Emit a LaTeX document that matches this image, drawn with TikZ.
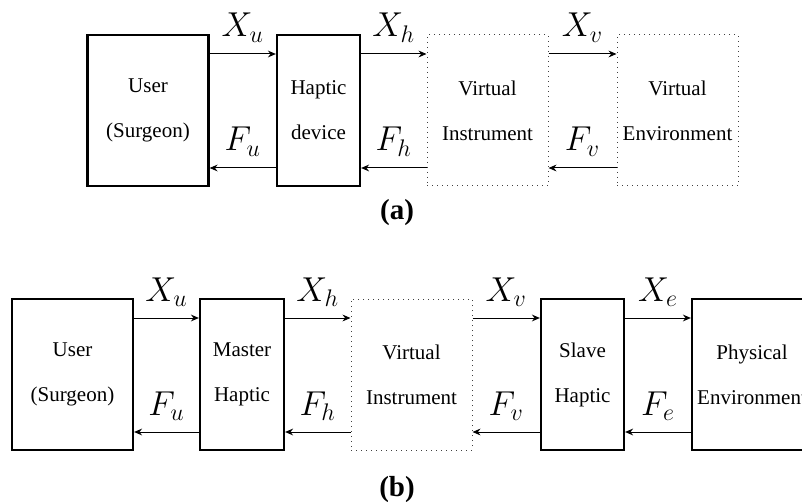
\documentclass[tikz,border=0pt]{standalone}
\usepackage{fontspec}
\setmainfont{Liberation Serif}
\usetikzlibrary{arrows.meta}
\begin{document}
\begin{tikzpicture}[x=0.5pt,y=-0.5pt,
  boxtext/.style={align=center, inner sep=0pt, minimum height=75.5pt,
    font=\fontsize{10.5}{22.5}\selectfont},
  solidbox/.style={boxtext, draw, line width=1.1pt},
  dotbox/.style={boxtext, draw=black!75, dotted, line width=0.5pt},
  arr/.style={-{Stealth[length=4pt,width=3.4pt]}, line width=0.5pt},
  lab/.style={anchor=base, yshift=8.5pt, font=\LARGE, inner sep=0pt},
  capt/.style={font=\fontsize{14.5}{16}\selectfont\bfseries, inner sep=0pt}]
\useasboundingbox (0,0) rectangle (802,502);
\clip (0,0) rectangle (802,502);
% ---- (a)
\node[solidbox, minimum width=60.5pt] (ua) at (148,110.5) {User\\(Surgeon)};
\node[solidbox, minimum width=41.5pt] (ha) at (318.5,110.5) {Haptic\\device};
\node[dotbox, minimum width=60.5pt] (via) at (487.5,110.5) {Virtual\\Instrument};
\node[dotbox, minimum width=60.5pt] (vea) at (677.5,110.5) {Virtual\\Environment};
\draw[arr] ([yshift=28.25pt]ua.east) -- node[lab]{$X_u$} ([yshift=28.25pt]ha.west);
\draw[arr] ([yshift=28.25pt]ha.east) -- node[lab]{$X_h$} ([yshift=28.25pt]via.west);
\draw[arr] ([yshift=28.25pt]via.east) -- node[lab]{$X_v$} ([yshift=28.25pt]vea.west);
\draw[arr] ([yshift=-28.75pt]ha.west) -- node[lab]{$F_u$} ([yshift=-28.75pt]ua.east);
\draw[arr] ([yshift=-28.75pt]via.west) -- node[lab]{$F_h$} ([yshift=-28.75pt]ha.east);
\draw[arr] ([yshift=-28.75pt]vea.west) -- node[lab]{$F_v$} ([yshift=-28.75pt]via.east);
\node[capt] (capa) at (397,213) {(a)};
% ---- (b)
\node[solidbox, minimum width=60.5pt] (ub) at (72.5,374.5) {User\\(Surgeon)};
\node[solidbox, minimum width=42pt] (mb) at (242,374.5) {Master\\Haptic};
\node[dotbox, minimum width=60.5pt] (vib) at (411.5,374.5) {Virtual\\Instrument};
\node[solidbox, minimum width=41.5pt] (sb) at (582.5,374.5) {Slave\\Haptic};
\node[solidbox, minimum width=60pt] (pb) at (752,374.5) {Physical\\Environment};
\draw[arr] ([yshift=28.25pt]ub.east) -- node[lab]{$X_u$} ([yshift=28.25pt]mb.west);
\draw[arr] ([yshift=28.25pt]mb.east) -- node[lab]{$X_h$} ([yshift=28.25pt]vib.west);
\draw[arr] ([yshift=28.25pt]vib.east) -- node[lab]{$X_v$} ([yshift=28.25pt]sb.west);
\draw[arr] ([yshift=28.25pt]sb.east) -- node[lab]{$X_e$} ([yshift=28.25pt]pb.west);
\draw[arr] ([yshift=-28.75pt]mb.west) -- node[lab]{$F_u$} ([yshift=-28.75pt]ub.east);
\draw[arr] ([yshift=-28.75pt]vib.west) -- node[lab]{$F_h$} ([yshift=-28.75pt]mb.east);
\draw[arr] ([yshift=-28.75pt]sb.west) -- node[lab]{$F_v$} ([yshift=-28.75pt]vib.east);
\draw[arr] ([yshift=-28.75pt]pb.west) -- node[lab]{$F_e$} ([yshift=-28.75pt]sb.east);
\node[capt] (capb) at (397,490) {(b)};
\end{tikzpicture}
\end{document}
